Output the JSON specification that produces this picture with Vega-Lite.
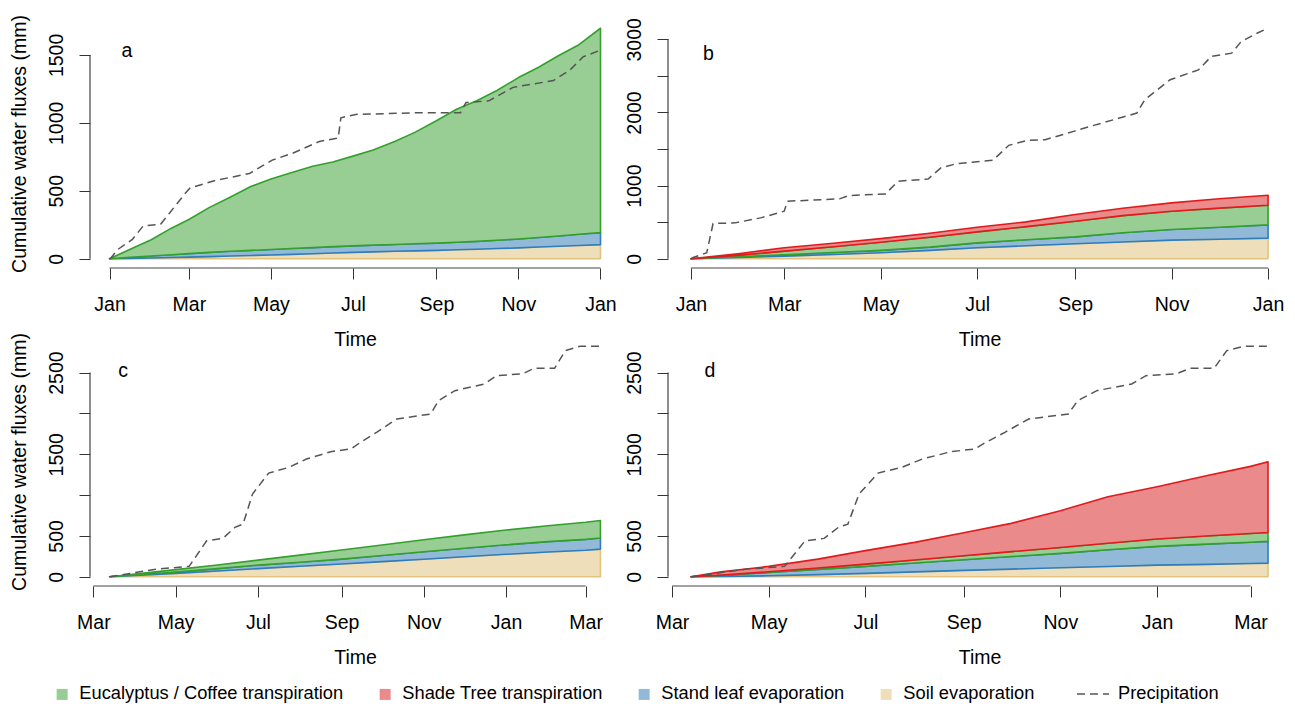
{
  "$schema": "https://vega.github.io/schema/vega-lite/v6.json",
  "padding": {"left": 8, "top": 14, "right": 4, "bottom": 4},
  "background": "white",
  "config": {
    "view": {"stroke": null},
    "font": "Liberation Sans",
    "axis": {
      "labelFont": "Liberation Sans", "labelFontSize": 19.5, "labelColor": "#000",
      "titleFont": "Liberation Sans", "titleFontSize": 19.5, "titleFontWeight": "normal", "titleColor": "#000",
      "tickColor": "#333", "tickWidth": 1, "tickSize": 11,
      "domain": false, "grid": false,
      "labelFlush": false, "labelOverlap": false, "labelBound": false
    },
    "axisX": {"labelPadding": 16, "titlePadding": 17},
    "axisY": {"labelAngle": -90, "labelAlign": "center", "labelBaseline": "bottom", "labelPadding": 13, "titlePadding": 17, "format": "d"},
    "legend": {"padding": 0, "labelFont": "Liberation Sans", "labelFontSize": 18.3, "labelColor": "#000", "labelLimit": 400}
  },
  "datasets": {
    "components": [
      {"flux": "Soil evaporation", "stack_rank": 1},
      {"flux": "Stand leaf evaporation", "stack_rank": 2},
      {"flux": "Eucalyptus / Coffee transpiration", "stack_rank": 3},
      {"flux": "Shade Tree transpiration", "stack_rank": 4}
    ],
    "flux": [
      {"panel":"a","date":"2010-01-01","flux":"Soil evaporation","mm":0},
      {"panel":"a","date":"2010-01-16","flux":"Soil evaporation","mm":3},
      {"panel":"a","date":"2010-02-01","flux":"Soil evaporation","mm":6},
      {"panel":"a","date":"2010-02-16","flux":"Soil evaporation","mm":9},
      {"panel":"a","date":"2010-03-01","flux":"Soil evaporation","mm":12},
      {"panel":"a","date":"2010-03-16","flux":"Soil evaporation","mm":16},
      {"panel":"a","date":"2010-04-01","flux":"Soil evaporation","mm":20},
      {"panel":"a","date":"2010-04-16","flux":"Soil evaporation","mm":24},
      {"panel":"a","date":"2010-05-01","flux":"Soil evaporation","mm":28},
      {"panel":"a","date":"2010-05-16","flux":"Soil evaporation","mm":32},
      {"panel":"a","date":"2010-06-01","flux":"Soil evaporation","mm":37},
      {"panel":"a","date":"2010-06-16","flux":"Soil evaporation","mm":42},
      {"panel":"a","date":"2010-07-01","flux":"Soil evaporation","mm":47},
      {"panel":"a","date":"2010-07-16","flux":"Soil evaporation","mm":51},
      {"panel":"a","date":"2010-08-01","flux":"Soil evaporation","mm":55},
      {"panel":"a","date":"2010-08-16","flux":"Soil evaporation","mm":58},
      {"panel":"a","date":"2010-09-01","flux":"Soil evaporation","mm":62},
      {"panel":"a","date":"2010-09-16","flux":"Soil evaporation","mm":66},
      {"panel":"a","date":"2010-10-01","flux":"Soil evaporation","mm":70},
      {"panel":"a","date":"2010-10-16","flux":"Soil evaporation","mm":75},
      {"panel":"a","date":"2010-11-01","flux":"Soil evaporation","mm":80},
      {"panel":"a","date":"2010-11-16","flux":"Soil evaporation","mm":86},
      {"panel":"a","date":"2010-12-01","flux":"Soil evaporation","mm":92},
      {"panel":"a","date":"2010-12-16","flux":"Soil evaporation","mm":98},
      {"panel":"a","date":"2011-01-01","flux":"Soil evaporation","mm":104},
      {"panel":"a","date":"2010-01-01","flux":"Stand leaf evaporation","mm":0},
      {"panel":"a","date":"2010-01-16","flux":"Stand leaf evaporation","mm":7},
      {"panel":"a","date":"2010-02-01","flux":"Stand leaf evaporation","mm":14},
      {"panel":"a","date":"2010-02-16","flux":"Stand leaf evaporation","mm":20},
      {"panel":"a","date":"2010-03-01","flux":"Stand leaf evaporation","mm":26},
      {"panel":"a","date":"2010-03-16","flux":"Stand leaf evaporation","mm":31},
      {"panel":"a","date":"2010-04-01","flux":"Stand leaf evaporation","mm":35},
      {"panel":"a","date":"2010-04-16","flux":"Stand leaf evaporation","mm":38},
      {"panel":"a","date":"2010-05-01","flux":"Stand leaf evaporation","mm":40},
      {"panel":"a","date":"2010-05-16","flux":"Stand leaf evaporation","mm":43},
      {"panel":"a","date":"2010-06-01","flux":"Stand leaf evaporation","mm":45},
      {"panel":"a","date":"2010-06-16","flux":"Stand leaf evaporation","mm":47},
      {"panel":"a","date":"2010-07-01","flux":"Stand leaf evaporation","mm":48},
      {"panel":"a","date":"2010-07-16","flux":"Stand leaf evaporation","mm":49},
      {"panel":"a","date":"2010-08-01","flux":"Stand leaf evaporation","mm":50},
      {"panel":"a","date":"2010-08-16","flux":"Stand leaf evaporation","mm":52},
      {"panel":"a","date":"2010-09-01","flux":"Stand leaf evaporation","mm":53},
      {"panel":"a","date":"2010-09-16","flux":"Stand leaf evaporation","mm":55},
      {"panel":"a","date":"2010-10-01","flux":"Stand leaf evaporation","mm":58},
      {"panel":"a","date":"2010-10-16","flux":"Stand leaf evaporation","mm":61},
      {"panel":"a","date":"2010-11-01","flux":"Stand leaf evaporation","mm":65},
      {"panel":"a","date":"2010-11-16","flux":"Stand leaf evaporation","mm":70},
      {"panel":"a","date":"2010-12-01","flux":"Stand leaf evaporation","mm":76},
      {"panel":"a","date":"2010-12-16","flux":"Stand leaf evaporation","mm":82},
      {"panel":"a","date":"2011-01-01","flux":"Stand leaf evaporation","mm":88},
      {"panel":"a","date":"2010-01-01","flux":"Eucalyptus / Coffee transpiration","mm":0},
      {"panel":"a","date":"2010-01-16","flux":"Eucalyptus / Coffee transpiration","mm":58},
      {"panel":"a","date":"2010-02-01","flux":"Eucalyptus / Coffee transpiration","mm":120},
      {"panel":"a","date":"2010-02-16","flux":"Eucalyptus / Coffee transpiration","mm":196},
      {"panel":"a","date":"2010-03-01","flux":"Eucalyptus / Coffee transpiration","mm":251},
      {"panel":"a","date":"2010-03-16","flux":"Eucalyptus / Coffee transpiration","mm":329},
      {"panel":"a","date":"2010-04-01","flux":"Eucalyptus / Coffee transpiration","mm":400},
      {"panel":"a","date":"2010-04-16","flux":"Eucalyptus / Coffee transpiration","mm":469},
      {"panel":"a","date":"2010-05-01","flux":"Eucalyptus / Coffee transpiration","mm":518},
      {"panel":"a","date":"2010-05-16","flux":"Eucalyptus / Coffee transpiration","mm":557},
      {"panel":"a","date":"2010-06-01","flux":"Eucalyptus / Coffee transpiration","mm":598},
      {"panel":"a","date":"2010-06-16","flux":"Eucalyptus / Coffee transpiration","mm":623},
      {"panel":"a","date":"2010-07-01","flux":"Eucalyptus / Coffee transpiration","mm":660},
      {"panel":"a","date":"2010-07-16","flux":"Eucalyptus / Coffee transpiration","mm":700},
      {"panel":"a","date":"2010-08-01","flux":"Eucalyptus / Coffee transpiration","mm":757},
      {"panel":"a","date":"2010-08-16","flux":"Eucalyptus / Coffee transpiration","mm":820},
      {"panel":"a","date":"2010-09-01","flux":"Eucalyptus / Coffee transpiration","mm":900},
      {"panel":"a","date":"2010-09-16","flux":"Eucalyptus / Coffee transpiration","mm":979},
      {"panel":"a","date":"2010-10-01","flux":"Eucalyptus / Coffee transpiration","mm":1035},
      {"panel":"a","date":"2010-10-16","flux":"Eucalyptus / Coffee transpiration","mm":1102},
      {"panel":"a","date":"2010-11-01","flux":"Eucalyptus / Coffee transpiration","mm":1188},
      {"panel":"a","date":"2010-11-16","flux":"Eucalyptus / Coffee transpiration","mm":1253},
      {"panel":"a","date":"2010-12-01","flux":"Eucalyptus / Coffee transpiration","mm":1327},
      {"panel":"a","date":"2010-12-16","flux":"Eucalyptus / Coffee transpiration","mm":1395},
      {"panel":"a","date":"2011-01-01","flux":"Eucalyptus / Coffee transpiration","mm":1504},

      {"panel":"b","date":"2010-01-01","flux":"Soil evaporation","mm":0},
      {"panel":"b","date":"2010-02-01","flux":"Soil evaporation","mm":18},
      {"panel":"b","date":"2010-03-01","flux":"Soil evaporation","mm":36},
      {"panel":"b","date":"2010-04-01","flux":"Soil evaporation","mm":58},
      {"panel":"b","date":"2010-05-01","flux":"Soil evaporation","mm":82},
      {"panel":"b","date":"2010-06-01","flux":"Soil evaporation","mm":115},
      {"panel":"b","date":"2010-07-01","flux":"Soil evaporation","mm":150},
      {"panel":"b","date":"2010-08-01","flux":"Soil evaporation","mm":178},
      {"panel":"b","date":"2010-09-01","flux":"Soil evaporation","mm":205},
      {"panel":"b","date":"2010-10-01","flux":"Soil evaporation","mm":230},
      {"panel":"b","date":"2010-11-01","flux":"Soil evaporation","mm":255},
      {"panel":"b","date":"2010-12-01","flux":"Soil evaporation","mm":268},
      {"panel":"b","date":"2011-01-01","flux":"Soil evaporation","mm":282},
      {"panel":"b","date":"2010-01-01","flux":"Stand leaf evaporation","mm":0},
      {"panel":"b","date":"2010-02-01","flux":"Stand leaf evaporation","mm":10},
      {"panel":"b","date":"2010-03-01","flux":"Stand leaf evaporation","mm":20},
      {"panel":"b","date":"2010-04-01","flux":"Stand leaf evaporation","mm":27},
      {"panel":"b","date":"2010-05-01","flux":"Stand leaf evaporation","mm":33},
      {"panel":"b","date":"2010-06-01","flux":"Stand leaf evaporation","mm":45},
      {"panel":"b","date":"2010-07-01","flux":"Stand leaf evaporation","mm":68},
      {"panel":"b","date":"2010-08-01","flux":"Stand leaf evaporation","mm":82},
      {"panel":"b","date":"2010-09-01","flux":"Stand leaf evaporation","mm":95},
      {"panel":"b","date":"2010-10-01","flux":"Stand leaf evaporation","mm":125},
      {"panel":"b","date":"2010-11-01","flux":"Stand leaf evaporation","mm":145},
      {"panel":"b","date":"2010-12-01","flux":"Stand leaf evaporation","mm":164},
      {"panel":"b","date":"2011-01-01","flux":"Stand leaf evaporation","mm":182},
      {"panel":"b","date":"2010-01-01","flux":"Eucalyptus / Coffee transpiration","mm":0},
      {"panel":"b","date":"2010-02-01","flux":"Eucalyptus / Coffee transpiration","mm":22},
      {"panel":"b","date":"2010-03-01","flux":"Eucalyptus / Coffee transpiration","mm":49},
      {"panel":"b","date":"2010-04-01","flux":"Eucalyptus / Coffee transpiration","mm":80},
      {"panel":"b","date":"2010-05-01","flux":"Eucalyptus / Coffee transpiration","mm":112},
      {"panel":"b","date":"2010-06-01","flux":"Eucalyptus / Coffee transpiration","mm":135},
      {"panel":"b","date":"2010-07-01","flux":"Eucalyptus / Coffee transpiration","mm":150},
      {"panel":"b","date":"2010-08-01","flux":"Eucalyptus / Coffee transpiration","mm":180},
      {"panel":"b","date":"2010-09-01","flux":"Eucalyptus / Coffee transpiration","mm":214},
      {"panel":"b","date":"2010-10-01","flux":"Eucalyptus / Coffee transpiration","mm":235},
      {"panel":"b","date":"2010-11-01","flux":"Eucalyptus / Coffee transpiration","mm":250},
      {"panel":"b","date":"2010-12-01","flux":"Eucalyptus / Coffee transpiration","mm":260},
      {"panel":"b","date":"2011-01-01","flux":"Eucalyptus / Coffee transpiration","mm":268},
      {"panel":"b","date":"2010-01-01","flux":"Shade Tree transpiration","mm":0},
      {"panel":"b","date":"2010-02-01","flux":"Shade Tree transpiration","mm":22},
      {"panel":"b","date":"2010-03-01","flux":"Shade Tree transpiration","mm":45},
      {"panel":"b","date":"2010-04-01","flux":"Shade Tree transpiration","mm":47},
      {"panel":"b","date":"2010-05-01","flux":"Shade Tree transpiration","mm":48},
      {"panel":"b","date":"2010-06-01","flux":"Shade Tree transpiration","mm":55},
      {"panel":"b","date":"2010-07-01","flux":"Shade Tree transpiration","mm":64},
      {"panel":"b","date":"2010-08-01","flux":"Shade Tree transpiration","mm":65},
      {"panel":"b","date":"2010-09-01","flux":"Shade Tree transpiration","mm":91},
      {"panel":"b","date":"2010-10-01","flux":"Shade Tree transpiration","mm":100},
      {"panel":"b","date":"2010-11-01","flux":"Shade Tree transpiration","mm":114},
      {"panel":"b","date":"2010-12-01","flux":"Shade Tree transpiration","mm":128},
      {"panel":"b","date":"2011-01-01","flux":"Shade Tree transpiration","mm":137},

      {"panel":"c","date":"2013-03-13","flux":"Soil evaporation","mm":0},
      {"panel":"c","date":"2013-04-01","flux":"Soil evaporation","mm":16},
      {"panel":"c","date":"2013-05-01","flux":"Soil evaporation","mm":42},
      {"panel":"c","date":"2013-06-01","flux":"Soil evaporation","mm":70},
      {"panel":"c","date":"2013-07-01","flux":"Soil evaporation","mm":100},
      {"panel":"c","date":"2013-08-01","flux":"Soil evaporation","mm":128},
      {"panel":"c","date":"2013-09-01","flux":"Soil evaporation","mm":157},
      {"panel":"c","date":"2013-10-01","flux":"Soil evaporation","mm":185},
      {"panel":"c","date":"2013-11-01","flux":"Soil evaporation","mm":215},
      {"panel":"c","date":"2013-12-01","flux":"Soil evaporation","mm":245},
      {"panel":"c","date":"2014-01-01","flux":"Soil evaporation","mm":275},
      {"panel":"c","date":"2014-02-01","flux":"Soil evaporation","mm":303},
      {"panel":"c","date":"2014-03-01","flux":"Soil evaporation","mm":325},
      {"panel":"c","date":"2014-03-12","flux":"Soil evaporation","mm":339},
      {"panel":"c","date":"2013-03-13","flux":"Stand leaf evaporation","mm":0},
      {"panel":"c","date":"2013-04-01","flux":"Stand leaf evaporation","mm":6},
      {"panel":"c","date":"2013-05-01","flux":"Stand leaf evaporation","mm":16},
      {"panel":"c","date":"2013-06-01","flux":"Stand leaf evaporation","mm":30},
      {"panel":"c","date":"2013-07-01","flux":"Stand leaf evaporation","mm":43},
      {"panel":"c","date":"2013-08-01","flux":"Stand leaf evaporation","mm":50},
      {"panel":"c","date":"2013-09-01","flux":"Stand leaf evaporation","mm":59},
      {"panel":"c","date":"2013-10-01","flux":"Stand leaf evaporation","mm":75},
      {"panel":"c","date":"2013-11-01","flux":"Stand leaf evaporation","mm":91},
      {"panel":"c","date":"2013-12-01","flux":"Stand leaf evaporation","mm":105},
      {"panel":"c","date":"2014-01-01","flux":"Stand leaf evaporation","mm":117},
      {"panel":"c","date":"2014-02-01","flux":"Stand leaf evaporation","mm":127},
      {"panel":"c","date":"2014-03-01","flux":"Stand leaf evaporation","mm":133},
      {"panel":"c","date":"2014-03-12","flux":"Stand leaf evaporation","mm":135},
      {"panel":"c","date":"2013-03-13","flux":"Eucalyptus / Coffee transpiration","mm":0},
      {"panel":"c","date":"2013-04-01","flux":"Eucalyptus / Coffee transpiration","mm":10},
      {"panel":"c","date":"2013-05-01","flux":"Eucalyptus / Coffee transpiration","mm":30},
      {"panel":"c","date":"2013-06-01","flux":"Eucalyptus / Coffee transpiration","mm":45},
      {"panel":"c","date":"2013-07-01","flux":"Eucalyptus / Coffee transpiration","mm":61},
      {"panel":"c","date":"2013-08-01","flux":"Eucalyptus / Coffee transpiration","mm":87},
      {"panel":"c","date":"2013-09-01","flux":"Eucalyptus / Coffee transpiration","mm":111},
      {"panel":"c","date":"2013-10-01","flux":"Eucalyptus / Coffee transpiration","mm":130},
      {"panel":"c","date":"2013-11-01","flux":"Eucalyptus / Coffee transpiration","mm":147},
      {"panel":"c","date":"2013-12-01","flux":"Eucalyptus / Coffee transpiration","mm":163},
      {"panel":"c","date":"2014-01-01","flux":"Eucalyptus / Coffee transpiration","mm":180},
      {"panel":"c","date":"2014-02-01","flux":"Eucalyptus / Coffee transpiration","mm":195},
      {"panel":"c","date":"2014-03-01","flux":"Eucalyptus / Coffee transpiration","mm":210},
      {"panel":"c","date":"2014-03-12","flux":"Eucalyptus / Coffee transpiration","mm":215},

      {"panel":"d","date":"2013-03-13","flux":"Soil evaporation","mm":0},
      {"panel":"d","date":"2013-04-01","flux":"Soil evaporation","mm":4},
      {"panel":"d","date":"2013-05-01","flux":"Soil evaporation","mm":12},
      {"panel":"d","date":"2013-06-01","flux":"Soil evaporation","mm":26},
      {"panel":"d","date":"2013-07-01","flux":"Soil evaporation","mm":41},
      {"panel":"d","date":"2013-08-01","flux":"Soil evaporation","mm":60},
      {"panel":"d","date":"2013-09-01","flux":"Soil evaporation","mm":78},
      {"panel":"d","date":"2013-10-01","flux":"Soil evaporation","mm":94},
      {"panel":"d","date":"2013-11-01","flux":"Soil evaporation","mm":110},
      {"panel":"d","date":"2013-12-01","flux":"Soil evaporation","mm":126},
      {"panel":"d","date":"2014-01-01","flux":"Soil evaporation","mm":143},
      {"panel":"d","date":"2014-02-01","flux":"Soil evaporation","mm":152},
      {"panel":"d","date":"2014-03-01","flux":"Soil evaporation","mm":162},
      {"panel":"d","date":"2014-03-12","flux":"Soil evaporation","mm":167},
      {"panel":"d","date":"2013-03-13","flux":"Stand leaf evaporation","mm":0},
      {"panel":"d","date":"2013-04-01","flux":"Stand leaf evaporation","mm":12},
      {"panel":"d","date":"2013-05-01","flux":"Stand leaf evaporation","mm":41},
      {"panel":"d","date":"2013-06-01","flux":"Stand leaf evaporation","mm":64},
      {"panel":"d","date":"2013-07-01","flux":"Stand leaf evaporation","mm":86},
      {"panel":"d","date":"2013-08-01","flux":"Stand leaf evaporation","mm":108},
      {"panel":"d","date":"2013-09-01","flux":"Stand leaf evaporation","mm":130},
      {"panel":"d","date":"2013-10-01","flux":"Stand leaf evaporation","mm":154},
      {"panel":"d","date":"2013-11-01","flux":"Stand leaf evaporation","mm":176},
      {"panel":"d","date":"2013-12-01","flux":"Stand leaf evaporation","mm":204},
      {"panel":"d","date":"2014-01-01","flux":"Stand leaf evaporation","mm":229},
      {"panel":"d","date":"2014-02-01","flux":"Stand leaf evaporation","mm":248},
      {"panel":"d","date":"2014-03-01","flux":"Stand leaf evaporation","mm":261},
      {"panel":"d","date":"2014-03-12","flux":"Stand leaf evaporation","mm":266},
      {"panel":"d","date":"2013-03-13","flux":"Eucalyptus / Coffee transpiration","mm":0},
      {"panel":"d","date":"2013-04-01","flux":"Eucalyptus / Coffee transpiration","mm":4},
      {"panel":"d","date":"2013-05-01","flux":"Eucalyptus / Coffee transpiration","mm":8},
      {"panel":"d","date":"2013-06-01","flux":"Eucalyptus / Coffee transpiration","mm":18},
      {"panel":"d","date":"2013-07-01","flux":"Eucalyptus / Coffee transpiration","mm":28},
      {"panel":"d","date":"2013-08-01","flux":"Eucalyptus / Coffee transpiration","mm":38},
      {"panel":"d","date":"2013-09-01","flux":"Eucalyptus / Coffee transpiration","mm":49},
      {"panel":"d","date":"2013-10-01","flux":"Eucalyptus / Coffee transpiration","mm":60},
      {"panel":"d","date":"2013-11-01","flux":"Eucalyptus / Coffee transpiration","mm":73},
      {"panel":"d","date":"2013-12-01","flux":"Eucalyptus / Coffee transpiration","mm":80},
      {"panel":"d","date":"2014-01-01","flux":"Eucalyptus / Coffee transpiration","mm":90},
      {"panel":"d","date":"2014-02-01","flux":"Eucalyptus / Coffee transpiration","mm":100},
      {"panel":"d","date":"2014-03-01","flux":"Eucalyptus / Coffee transpiration","mm":107},
      {"panel":"d","date":"2014-03-12","flux":"Eucalyptus / Coffee transpiration","mm":110},
      {"panel":"d","date":"2013-03-13","flux":"Shade Tree transpiration","mm":0},
      {"panel":"d","date":"2013-04-01","flux":"Shade Tree transpiration","mm":40},
      {"panel":"d","date":"2013-05-01","flux":"Shade Tree transpiration","mm":66},
      {"panel":"d","date":"2013-06-01","flux":"Shade Tree transpiration","mm":108},
      {"panel":"d","date":"2013-07-01","flux":"Shade Tree transpiration","mm":165},
      {"panel":"d","date":"2013-08-01","flux":"Shade Tree transpiration","mm":215},
      {"panel":"d","date":"2013-09-01","flux":"Shade Tree transpiration","mm":283},
      {"panel":"d","date":"2013-10-01","flux":"Shade Tree transpiration","mm":346},
      {"panel":"d","date":"2013-11-01","flux":"Shade Tree transpiration","mm":450},
      {"panel":"d","date":"2013-12-01","flux":"Shade Tree transpiration","mm":570},
      {"panel":"d","date":"2014-01-01","flux":"Shade Tree transpiration","mm":641},
      {"panel":"d","date":"2014-02-01","flux":"Shade Tree transpiration","mm":738},
      {"panel":"d","date":"2014-03-01","flux":"Shade Tree transpiration","mm":822},
      {"panel":"d","date":"2014-03-12","flux":"Shade Tree transpiration","mm":866}
    ],
    "rain": [
      {"panels":"a","date":"2010-01-01","mm":0},
      {"panels":"a","date":"2010-01-02","mm":5},
      {"panels":"a","date":"2010-01-07","mm":67},
      {"panels":"a","date":"2010-01-18","mm":142},
      {"panels":"a","date":"2010-01-26","mm":241},
      {"panels":"a","date":"2010-02-08","mm":254},
      {"panels":"a","date":"2010-02-15","mm":341},
      {"panels":"a","date":"2010-02-27","mm":490},
      {"panels":"a","date":"2010-03-02","mm":522},
      {"panels":"a","date":"2010-03-21","mm":577},
      {"panels":"a","date":"2010-04-15","mm":627},
      {"panels":"a","date":"2010-05-02","mm":726},
      {"panels":"a","date":"2010-05-17","mm":776},
      {"panels":"a","date":"2010-06-06","mm":863},
      {"panels":"a","date":"2010-06-20","mm":888},
      {"panels":"a","date":"2010-06-22","mm":1037},
      {"panels":"a","date":"2010-07-03","mm":1062},
      {"panels":"a","date":"2010-08-22","mm":1075},
      {"panels":"a","date":"2010-09-19","mm":1075},
      {"panels":"a","date":"2010-09-23","mm":1149},
      {"panels":"a","date":"2010-10-10","mm":1162},
      {"panels":"a","date":"2010-10-28","mm":1261},
      {"panels":"a","date":"2010-11-27","mm":1311},
      {"panels":"a","date":"2010-12-09","mm":1386},
      {"panels":"a","date":"2010-12-19","mm":1485},
      {"panels":"a","date":"2011-01-01","mm":1535},

      {"panels":"b","date":"2010-01-01","mm":0},
      {"panels":"b","date":"2010-01-02","mm":14},
      {"panels":"b","date":"2010-01-11","mm":82},
      {"panels":"b","date":"2010-01-15","mm":482},
      {"panels":"b","date":"2010-01-29","mm":491},
      {"panels":"b","date":"2010-02-14","mm":559},
      {"panels":"b","date":"2010-03-01","mm":650},
      {"panels":"b","date":"2010-03-03","mm":787},
      {"panels":"b","date":"2010-04-05","mm":819},
      {"panels":"b","date":"2010-04-11","mm":864},
      {"panels":"b","date":"2010-05-04","mm":887},
      {"panels":"b","date":"2010-05-12","mm":1060},
      {"panels":"b","date":"2010-05-31","mm":1091},
      {"panels":"b","date":"2010-06-08","mm":1242},
      {"panels":"b","date":"2010-06-18","mm":1301},
      {"panels":"b","date":"2010-07-11","mm":1346},
      {"panels":"b","date":"2010-07-21","mm":1551},
      {"panels":"b","date":"2010-08-02","mm":1619},
      {"panels":"b","date":"2010-08-13","mm":1628},
      {"panels":"b","date":"2010-08-31","mm":1742},
      {"panels":"b","date":"2010-09-12","mm":1819},
      {"panels":"b","date":"2010-10-10","mm":1992},
      {"panels":"b","date":"2010-10-15","mm":2174},
      {"panels":"b","date":"2010-10-31","mm":2447},
      {"panels":"b","date":"2010-11-18","mm":2583},
      {"panels":"b","date":"2010-11-26","mm":2765},
      {"panels":"b","date":"2010-12-09","mm":2811},
      {"panels":"b","date":"2010-12-15","mm":2970},
      {"panels":"b","date":"2010-12-25","mm":3083},
      {"panels":"b","date":"2011-01-01","mm":3152},

      {"panels":"cd","date":"2013-03-13","mm":0},
      {"panels":"cd","date":"2013-04-17","mm":94},
      {"panels":"cd","date":"2013-05-11","mm":127},
      {"panels":"cd","date":"2013-05-24","mm":441},
      {"panels":"cd","date":"2013-06-05","mm":470},
      {"panels":"cd","date":"2013-06-14","mm":605},
      {"panels":"cd","date":"2013-06-20","mm":645},
      {"panels":"cd","date":"2013-06-27","mm":1013},
      {"panels":"cd","date":"2013-07-09","mm":1270},
      {"panels":"cd","date":"2013-07-24","mm":1340},
      {"panels":"cd","date":"2013-08-06","mm":1442},
      {"panels":"cd","date":"2013-08-24","mm":1532},
      {"panels":"cd","date":"2013-09-08","mm":1565},
      {"panels":"cd","date":"2013-09-15","mm":1646},
      {"panels":"cd","date":"2013-09-27","mm":1769},
      {"panels":"cd","date":"2013-10-12","mm":1932},
      {"panels":"cd","date":"2013-11-06","mm":1993},
      {"panels":"cd","date":"2013-11-12","mm":2157},
      {"panels":"cd","date":"2013-11-24","mm":2279},
      {"panels":"cd","date":"2013-12-16","mm":2361},
      {"panels":"cd","date":"2013-12-25","mm":2463},
      {"panels":"cd","date":"2014-01-13","mm":2484},
      {"panels":"cd","date":"2014-01-22","mm":2553},
      {"panels":"cd","date":"2014-02-06","mm":2553},
      {"panels":"cd","date":"2014-02-14","mm":2770},
      {"panels":"cd","date":"2014-02-25","mm":2823},
      {"panels":"cd","date":"2014-03-12","mm":2823}
    ]
  },
  "columns": 2,
  "spacing": {"row": 69, "column": 48},
  "bounds": "flush",
  "concat": [
    {
      "width": 530, "height": 249,
      "layer": [
        {
          "data": {"name": "flux"},
          "transform": [
            {"filter": "datum.panel === 'a'"},
            {"lookup": "flux", "from": {"data": {"name": "components"}, "key": "flux", "fields": ["stack_rank"]}}
          ],
          "mark": {"type": "area", "strokeWidth": 1.6, "opacity": 1, "strokeJoin": "round"},
          "encoding": {
            "x": {"field": "date", "type": "temporal",
                  "scale": {"type": "utc", "domain": [{"year": 2009, "month": 12, "date": 17, "hours": 12, "utc": true}, {"year": 2011, "month": 1, "date": 15, "hours": 12, "utc": true}]},
                  "axis": {"title": "Time", "format": "%b",
                           "values": [{"year": 2010, "month": 1, "date": 1, "utc": true}, {"year": 2010, "month": 3, "date": 1, "utc": true}, {"year": 2010, "month": 5, "date": 1, "utc": true}, {"year": 2010, "month": 7, "date": 1, "utc": true}, {"year": 2010, "month": 9, "date": 1, "utc": true}, {"year": 2010, "month": 11, "date": 1, "utc": true}, {"year": 2011, "month": 1, "date": 1, "utc": true}]}},
            "y": {"field": "mm", "type": "quantitative", "stack": "zero",
                  "scale": {"domain": [-68, 1764], "nice": false, "zero": false},
                  "axis": {"title": "Cumulative water fluxes (mm)", "values": [0, 500, 1000, 1500]}},
            "fill": {"field": "flux", "type": "nominal",
                     "scale": {"domain": ["Eucalyptus / Coffee transpiration", "Shade Tree transpiration", "Stand leaf evaporation", "Soil evaporation"], "range": ["#98ce94", "#ea8a8a", "#92bad8", "#eedfba"]},
                     "legend": {"orient": "none", "legendX": -37, "legendY": 666, "direction": "horizontal", "columns": 4, "columnPadding": 32, "title": null, "symbolType": "square", "symbolSize": 121, "symbolStrokeWidth": 0, "labelOffset": 8}},
            "stroke": {"field": "flux", "type": "nominal",
                       "scale": {"domain": ["Eucalyptus / Coffee transpiration", "Shade Tree transpiration", "Stand leaf evaporation", "Soil evaporation"], "range": ["#33a02c", "#e31a1c", "#2f7dbb", "#e2c47e"]},
                       "legend": null},
            "order": {"field": "stack_rank", "type": "quantitative", "sort": "ascending"}
          }
        },
        {
          "data": {"name": "rain"},
          "transform": [{"filter": "datum.panels === 'a'"}],
          "mark": {"type": "line", "color": "#555555", "strokeWidth": 1.5},
          "encoding": {
            "x": {"field": "date", "type": "temporal"},
            "y": {"field": "mm", "type": "quantitative"},
            "strokeDash": {"datum": "Precipitation", "type": "nominal",
                           "scale": {"domain": ["Precipitation"], "range": [[8, 5]]},
                           "legend": {"orient": "none", "legendX": 986, "legendY": 658, "title": null, "symbolSize": 1024, "symbolStrokeColor": "#333333", "symbolStrokeWidth": 1.5, "labelOffset": 8}}
          }
        },
        {
          "data": {"values": [{}]},
          "mark": {"type": "rule", "color": "#444444", "strokeWidth": 1.2},
          "encoding": {
            "x": {"datum": {"year": 2010, "month": 1, "date": 1, "utc": true}, "type": "temporal"},
            "x2": {"datum": {"year": 2011, "month": 1, "date": 1, "utc": true}},
            "y": {"datum": -68, "type": "quantitative"}
          }
        },
        {
          "data": {"values": [{}]},
          "mark": {"type": "rule", "color": "#444444", "strokeWidth": 1.2},
          "encoding": {
            "x": {"datum": {"year": 2009, "month": 12, "date": 17, "hours": 12, "utc": true}, "type": "temporal"},
            "y": {"datum": 0, "type": "quantitative"},
            "y2": {"datum": 1500}
          }
        },
        {
          "data": {"values": [{}]},
          "mark": {"type": "text", "font": "Liberation Sans", "fontSize": 19.5, "align": "center", "baseline": "middle", "color": "#000"},
          "encoding": {
            "x": {"datum": {"year": 2010, "month": 1, "date": 14, "utc": true}, "type": "temporal"},
            "y": {"datum": 1530, "type": "quantitative"},
            "text": {"value": "a"}
          }
        }
      ]
    },
    {
      "width": 623, "height": 249,
      "layer": [
        {
          "data": {"name": "flux"},
          "transform": [
            {"filter": "datum.panel === 'b'"},
            {"lookup": "flux", "from": {"data": {"name": "components"}, "key": "flux", "fields": ["stack_rank"]}}
          ],
          "mark": {"type": "area", "strokeWidth": 1.6, "opacity": 1, "strokeJoin": "round"},
          "encoding": {
            "x": {"field": "date", "type": "temporal",
                  "scale": {"type": "utc", "domain": [{"year": 2009, "month": 12, "date": 17, "hours": 12, "utc": true}, {"year": 2011, "month": 1, "date": 15, "hours": 12, "utc": true}]},
                  "axis": {"title": "Time", "format": "%b",
                           "values": [{"year": 2010, "month": 1, "date": 1, "utc": true}, {"year": 2010, "month": 3, "date": 1, "utc": true}, {"year": 2010, "month": 5, "date": 1, "utc": true}, {"year": 2010, "month": 7, "date": 1, "utc": true}, {"year": 2010, "month": 9, "date": 1, "utc": true}, {"year": 2010, "month": 11, "date": 1, "utc": true}, {"year": 2011, "month": 1, "date": 1, "utc": true}]}},
            "y": {"field": "mm", "type": "quantitative", "stack": "zero",
                  "scale": {"domain": [-126, 3278], "nice": false, "zero": false},
                  "axis": {"title": null, "values": [0, 500, 1000, 1500, 2000, 2500, 3000], "labelExpr": "datum.value % 1000 === 0 ? datum.label : ''"}},
            "fill": {"field": "flux", "type": "nominal"},
            "stroke": {"field": "flux", "type": "nominal", "legend": null},
            "order": {"field": "stack_rank", "type": "quantitative", "sort": "ascending"}
          }
        },
        {
          "data": {"name": "rain"},
          "transform": [{"filter": "datum.panels === 'b'"}],
          "mark": {"type": "line", "color": "#555555", "strokeWidth": 1.5},
          "encoding": {
            "x": {"field": "date", "type": "temporal"},
            "y": {"field": "mm", "type": "quantitative"},
            "strokeDash": {"datum": "Precipitation", "type": "nominal"}
          }
        },
        {
          "data": {"values": [{}]},
          "mark": {"type": "rule", "color": "#444444", "strokeWidth": 1.2},
          "encoding": {
            "x": {"datum": {"year": 2010, "month": 1, "date": 1, "utc": true}, "type": "temporal"},
            "x2": {"datum": {"year": 2011, "month": 1, "date": 1, "utc": true}},
            "y": {"datum": -126, "type": "quantitative"}
          }
        },
        {
          "data": {"values": [{}]},
          "mark": {"type": "rule", "color": "#444444", "strokeWidth": 1.2},
          "encoding": {
            "x": {"datum": {"year": 2009, "month": 12, "date": 17, "hours": 12, "utc": true}, "type": "temporal"},
            "y": {"datum": 0, "type": "quantitative"},
            "y2": {"datum": 3000}
          }
        },
        {
          "data": {"values": [{}]},
          "mark": {"type": "text", "font": "Liberation Sans", "fontSize": 19.5, "align": "center", "baseline": "middle", "color": "#000"},
          "encoding": {
            "x": {"datum": {"year": 2010, "month": 1, "date": 12, "utc": true}, "type": "temporal"},
            "y": {"datum": 2795, "type": "quantitative"},
            "text": {"value": "b"}
          }
        }
      ]
    },
    {
      "width": 530, "height": 249,
      "layer": [
        {
          "data": {"name": "flux"},
          "transform": [
            {"filter": "datum.panel === 'c'"},
            {"lookup": "flux", "from": {"data": {"name": "components"}, "key": "flux", "fields": ["stack_rank"]}}
          ],
          "mark": {"type": "area", "strokeWidth": 1.6, "opacity": 1, "strokeJoin": "round"},
          "encoding": {
            "x": {"field": "date", "type": "temporal",
                  "scale": {"type": "utc", "domain": [{"year": 2013, "month": 2, "date": 26, "hours": 12, "utc": true}, {"year": 2014, "month": 3, "date": 26, "hours": 12, "utc": true}]},
                  "axis": {"title": "Time", "format": "%b",
                           "values": [{"year": 2013, "month": 3, "date": 1, "utc": true}, {"year": 2013, "month": 5, "date": 1, "utc": true}, {"year": 2013, "month": 7, "date": 1, "utc": true}, {"year": 2013, "month": 9, "date": 1, "utc": true}, {"year": 2013, "month": 11, "date": 1, "utc": true}, {"year": 2014, "month": 1, "date": 1, "utc": true}, {"year": 2014, "month": 3, "date": 1, "utc": true}]}},
            "y": {"field": "mm", "type": "quantitative", "stack": "zero",
                  "scale": {"domain": [-113, 2936], "nice": false, "zero": false},
                  "axis": {"title": "Cumulative water fluxes (mm)", "values": [0, 500, 1000, 1500, 2000, 2500], "labelExpr": "datum.value === 1000 || datum.value === 2000 ? '' : datum.label"}},
            "fill": {"field": "flux", "type": "nominal"},
            "stroke": {"field": "flux", "type": "nominal", "legend": null},
            "order": {"field": "stack_rank", "type": "quantitative", "sort": "ascending"}
          }
        },
        {
          "data": {"name": "rain"},
          "transform": [{"filter": "datum.panels === 'cd'"}],
          "mark": {"type": "line", "color": "#555555", "strokeWidth": 1.5},
          "encoding": {
            "x": {"field": "date", "type": "temporal"},
            "y": {"field": "mm", "type": "quantitative"},
            "strokeDash": {"datum": "Precipitation", "type": "nominal"}
          }
        },
        {
          "data": {"values": [{}]},
          "mark": {"type": "rule", "color": "#444444", "strokeWidth": 1.2},
          "encoding": {
            "x": {"datum": {"year": 2013, "month": 3, "date": 1, "utc": true}, "type": "temporal"},
            "x2": {"datum": {"year": 2014, "month": 3, "date": 1, "utc": true}},
            "y": {"datum": -113, "type": "quantitative"}
          }
        },
        {
          "data": {"values": [{}]},
          "mark": {"type": "rule", "color": "#444444", "strokeWidth": 1.2},
          "encoding": {
            "x": {"datum": {"year": 2013, "month": 2, "date": 26, "hours": 12, "utc": true}, "type": "temporal"},
            "y": {"datum": 0, "type": "quantitative"},
            "y2": {"datum": 2500}
          }
        },
        {
          "data": {"values": [{}]},
          "mark": {"type": "text", "font": "Liberation Sans", "fontSize": 19.5, "align": "center", "baseline": "middle", "color": "#000"},
          "encoding": {
            "x": {"datum": {"year": 2013, "month": 3, "date": 23, "utc": true}, "type": "temporal"},
            "y": {"datum": 2520, "type": "quantitative"},
            "text": {"value": "c"}
          }
        }
      ]
    },
    {
      "width": 623, "height": 249,
      "layer": [
        {
          "data": {"name": "flux"},
          "transform": [
            {"filter": "datum.panel === 'd'"},
            {"lookup": "flux", "from": {"data": {"name": "components"}, "key": "flux", "fields": ["stack_rank"]}}
          ],
          "mark": {"type": "area", "strokeWidth": 1.6, "opacity": 1, "strokeJoin": "round"},
          "encoding": {
            "x": {"field": "date", "type": "temporal",
                  "scale": {"type": "utc", "domain": [{"year": 2013, "month": 2, "date": 26, "hours": 12, "utc": true}, {"year": 2014, "month": 3, "date": 26, "hours": 12, "utc": true}]},
                  "axis": {"title": "Time", "format": "%b",
                           "values": [{"year": 2013, "month": 3, "date": 1, "utc": true}, {"year": 2013, "month": 5, "date": 1, "utc": true}, {"year": 2013, "month": 7, "date": 1, "utc": true}, {"year": 2013, "month": 9, "date": 1, "utc": true}, {"year": 2013, "month": 11, "date": 1, "utc": true}, {"year": 2014, "month": 1, "date": 1, "utc": true}, {"year": 2014, "month": 3, "date": 1, "utc": true}]}},
            "y": {"field": "mm", "type": "quantitative", "stack": "zero",
                  "scale": {"domain": [-113, 2936], "nice": false, "zero": false},
                  "axis": {"title": null, "values": [0, 500, 1000, 1500, 2000, 2500], "labelExpr": "datum.value === 1000 || datum.value === 2000 ? '' : datum.label"}},
            "fill": {"field": "flux", "type": "nominal"},
            "stroke": {"field": "flux", "type": "nominal", "legend": null},
            "order": {"field": "stack_rank", "type": "quantitative", "sort": "ascending"}
          }
        },
        {
          "data": {"name": "rain"},
          "transform": [{"filter": "datum.panels === 'cd'"}],
          "mark": {"type": "line", "color": "#555555", "strokeWidth": 1.5},
          "encoding": {
            "x": {"field": "date", "type": "temporal"},
            "y": {"field": "mm", "type": "quantitative"},
            "strokeDash": {"datum": "Precipitation", "type": "nominal"}
          }
        },
        {
          "data": {"values": [{}]},
          "mark": {"type": "rule", "color": "#444444", "strokeWidth": 1.2},
          "encoding": {
            "x": {"datum": {"year": 2013, "month": 3, "date": 1, "utc": true}, "type": "temporal"},
            "x2": {"datum": {"year": 2014, "month": 3, "date": 1, "utc": true}},
            "y": {"datum": -113, "type": "quantitative"}
          }
        },
        {
          "data": {"values": [{}]},
          "mark": {"type": "rule", "color": "#444444", "strokeWidth": 1.2},
          "encoding": {
            "x": {"datum": {"year": 2013, "month": 2, "date": 26, "hours": 12, "utc": true}, "type": "temporal"},
            "y": {"datum": 0, "type": "quantitative"},
            "y2": {"datum": 2500}
          }
        },
        {
          "data": {"values": [{}]},
          "mark": {"type": "text", "font": "Liberation Sans", "fontSize": 19.5, "align": "center", "baseline": "middle", "color": "#000"},
          "encoding": {
            "x": {"datum": {"year": 2013, "month": 3, "date": 25, "utc": true}, "type": "temporal"},
            "y": {"datum": 2520, "type": "quantitative"},
            "text": {"value": "d"}
          }
        }
      ]
    }
  ]
}
